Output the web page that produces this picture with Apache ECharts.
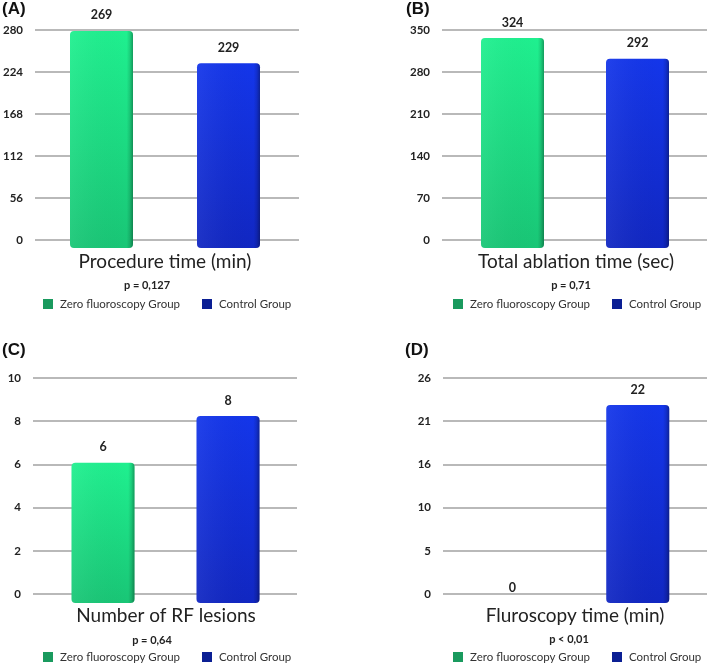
<!DOCTYPE html>
<html>
<head>
<meta charset="utf-8">
<script src="https://cdn.jsdelivr.net/npm/echarts@6/dist/echarts.min.js"></script>
<style>html,body{margin:0;padding:0;background:#fff;}#c{width:709px;height:664px;}</style>
</head>
<body>
<div id="c"></div>
<script>
// ---- data ----
const groups = ['Zero fluoroscopy Group', 'Control Group'];
const procedureTime = [269, 229];
const ablationTime = [324, 292];
const rfLesions = [6, 8];
const fluoroTime = [0, 22];
const ticksA = [0, 56, 112, 168, 224, 280];
const ticksB = [0, 70, 140, 210, 280, 350];
const ticksC = [0, 2, 4, 6, 8, 10];
const ticksD = [0, 5, 10, 16, 21, 26];
const panelLetters = ['(A)', '(B)', '(C)', '(D)'];
const panelTitles = ['Procedure time (min)', 'Total ablation time (sec)', 'Number of RF lesions', 'Fluroscopy time (min)'];
const pValues = ['p = 0,127', 'p = 0,71', 'p = 0,64', 'p < 0,01'];

// ---- layout (styles/positions) ----
const panels = [
  { values: procedureTime, ticks: ticksA, axMax: 280, axInt: 56,
    axGrid: { left: 32, top: 30, width: 267, height: 210 },
    barGrid: { left: 38, top: 30, width: 254, height: 218 }, barMax: 270.2,
    letter: [2, 9], cx: 165, titleY: 262, pY: 285, pX: 147, legend: { left: 43, top: 298 } },
  { values: ablationTime, ticks: ticksB, axMax: 350, axInt: 70,
    axGrid: { left: 442, top: 30, width: 265, height: 210 },
    barGrid: { left: 450, top: 30, width: 250, height: 218 }, barMax: 336.4,
    letter: [406, 9], cx: 576, titleY: 262, pY: 285, pX: 571, legend: { left: 453, top: 298 } },
  { values: rfLesions, ticks: ticksC, axMax: 10, axInt: 2,
    axGrid: { left: 33, top: 378, width: 264, height: 216 },
    barGrid: { left: 40.5, top: 378, width: 250, height: 225 }, barMax: 9.626,
    letter: [2, 350], cx: 166, titleY: 616, pY: 640, pX: 152, legend: { left: 43, top: 651 } },
  { values: fluoroTime, ticks: ticksD, axMax: 26, axInt: 5.2,
    axGrid: { left: 443, top: 378, width: 264, height: 216 },
    barGrid: { left: 449.5, top: 378, width: 251, height: 225 }, barMax: 25,
    letter: [405, 350], cx: 575, titleY: 616, pY: 639, pX: 569, legend: { left: 453, top: 651 } }
];

const FONT = 'Lato, "Open Sans", sans-serif';
const greenFill = { type: 'linear', x: 0, y: 0, x2: 0, y2: 1, colorStops: [
  { offset: 0, color: '#1ff08f' }, { offset: 1, color: '#19c676' } ] };
const blueFill = { type: 'linear', x: 0, y: 0, x2: 0, y2: 1, colorStops: [
  { offset: 0, color: '#1436ea' }, { offset: 1, color: '#1127c2' } ] };
const edgeFill = { type: 'linear', x: 0, y: 0, x2: 1, y2: 0, colorStops: [
  { offset: 0, color: 'rgba(255,255,255,0.06)' }, { offset: 0.9, color: 'rgba(0,0,0,0)' },
  { offset: 0.95, color: 'rgba(0,0,0,0.12)' }, { offset: 1, color: 'rgba(0,0,0,0.35)' } ] };

const grid = [], xAxis = [], yAxis = [], series = [], legend = [], graphic = [];
panels.forEach((p, i) => {
  const gA = grid.length; grid.push(p.axGrid);
  const gB = grid.length; grid.push(p.barGrid);
  xAxis.push({ type: 'category', gridIndex: gA, data: groups, show: false });
  xAxis.push({ type: 'category', gridIndex: gB, data: groups, show: false });
  yAxis.push({ type: 'value', gridIndex: gA, min: 0, max: p.axMax, interval: p.axInt,
    axisLine: { show: false }, axisTick: { show: false },
    axisLabel: { margin: 12, color: '#222', fontFamily: FONT, fontWeight: 'bold', fontSize: 11.5,
      formatter: (v, idx) => String(p.ticks[idx]) },
    splitLine: { lineStyle: { color: '#a2a2a2', width: 1.5 } } });
  yAxis.push({ type: 'value', gridIndex: gB, min: 0, max: p.barMax, show: false, splitLine: { show: false } });
  const xi = xAxis.length - 1, yi = yAxis.length - 1;
  const lbl = { show: true, position: 'top', distance: 9, color: '#222', fontFamily: FONT, fontWeight: 'bold', fontSize: 12.5 };
  series.push({ type: 'bar', name: groups[0], xAxisIndex: xi, yAxisIndex: yi, barWidth: 63, barGap: '-100%',
    data: [p.values[0], '-'], itemStyle: { color: greenFill, borderRadius: 4 }, label: lbl, z: 3 });
  series.push({ type: 'bar', name: groups[1], xAxisIndex: xi, yAxisIndex: yi, barWidth: 63, barGap: '-100%',
    data: ['-', p.values[1]], itemStyle: { color: blueFill, borderRadius: 4 }, label: lbl, z: 3 });
  series.push({ type: 'bar', name: 'edge', xAxisIndex: xi, yAxisIndex: yi, barWidth: 63, barGap: '-100%',
    data: p.values.slice(), itemStyle: { color: edgeFill, borderRadius: 4 }, silent: true, z: 4 });
  legend.push({ left: p.legend.left, top: p.legend.top, padding: 0, itemWidth: 10, itemHeight: 10, itemGap: 22,
    icon: 'rect', selectedMode: false,
    textStyle: { fontFamily: FONT, fontSize: 11.5, color: '#333', padding: [0, 0, 0, 2] },
    data: [ { name: groups[0], itemStyle: { color: '#1a9a5e' } }, { name: groups[1], itemStyle: { color: '#0b1f94' } } ] });
  graphic.push({ type: 'text', x: p.letter[0], y: p.letter[1],
    style: { text: panelLetters[i], font: 'bold 17px "Liberation Sans", Arial, sans-serif', fill: '#111', textVerticalAlign: 'middle' } });
  graphic.push({ type: 'text', x: p.cx, y: p.titleY,
    style: { text: panelTitles[i], font: '19px ' + FONT, fill: '#222', textAlign: 'center', textVerticalAlign: 'middle' } });
  graphic.push({ type: 'text', x: p.pX, y: p.pY,
    style: { text: pValues[i], font: 'bold 11px ' + FONT, fill: '#222', textAlign: 'center', textVerticalAlign: 'middle' } });
});

const chart = echarts.init(document.getElementById('c'));
chart.setOption({ animation: false, grid, xAxis, yAxis, series, legend, graphic });
</script>
</body>
</html>
